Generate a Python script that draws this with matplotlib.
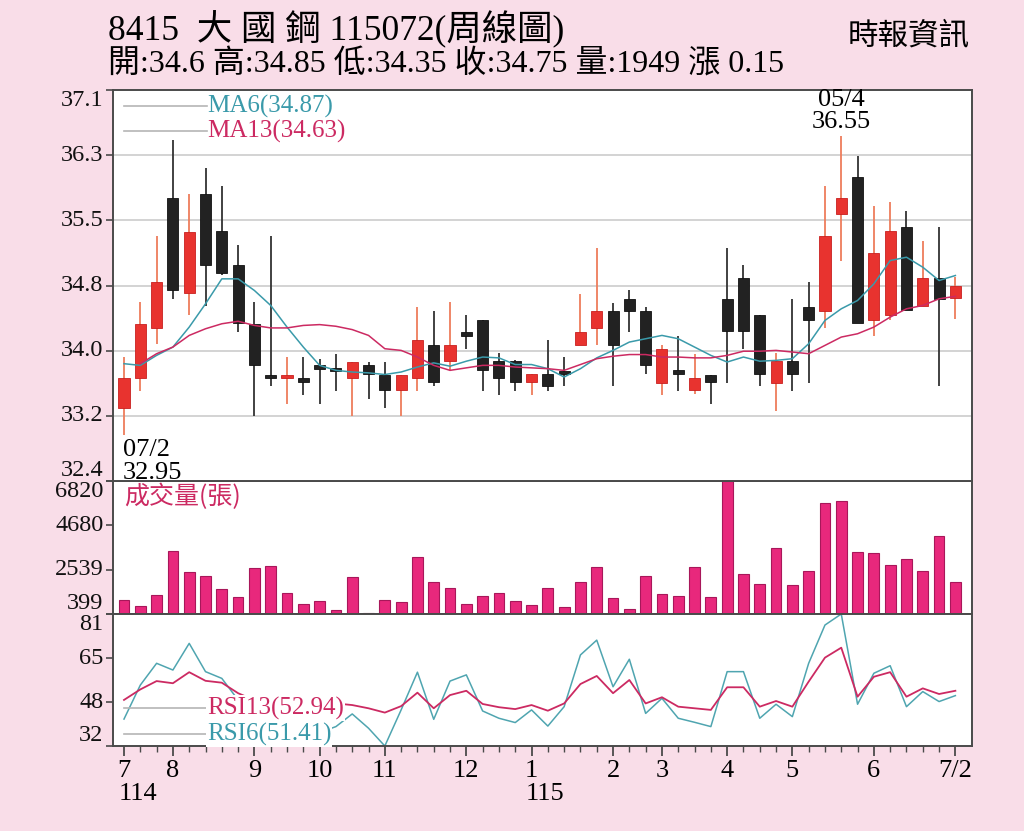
import numpy as np
import matplotlib
matplotlib.use("Agg")
import matplotlib.pyplot as plt

plt.rcParams["font.family"] = ["Liberation Serif", "Noto Sans CJK TC", "DejaVu Sans"]

# =============================================================================
# Data (weekly candles)
# =============================================================================

opens = [33.28, 33.64, 34.24, 35.80, 34.66, 35.85, 35.40, 35.00, 34.29, 33.68,
         33.64, 33.64, 33.79, 33.73, 33.64, 33.79, 33.68, 33.49, 33.64, 34.04,
         33.84, 34.19, 34.34, 33.84, 33.84, 33.59, 33.69, 33.72, 34.04, 34.24,
         34.44, 34.59, 34.44, 33.58, 33.73, 33.49, 33.68, 34.59, 34.84, 34.39,
         33.58, 33.84, 34.49, 34.44, 35.61, 36.06, 34.34, 34.39, 35.45, 34.50,
         34.84, 34.60]
highs = [33.89, 34.55, 35.35, 36.50, 35.85, 36.16, 35.95, 35.24, 34.55, 35.34,
         33.89, 33.89, 33.87, 33.93, 33.83, 33.83, 33.83, 33.68, 34.49, 34.44,
         34.55, 34.39, 34.34, 33.94, 33.86, 33.69, 34.09, 33.89, 34.65, 35.20,
         34.54, 34.70, 34.49, 34.04, 34.14, 33.93, 33.68, 35.20, 35.00, 34.39,
         33.94, 34.59, 34.79, 35.95, 36.55, 36.31, 35.70, 35.75, 35.65, 35.29,
         35.45, 34.85]
lows = [32.95, 33.48, 34.05, 34.59, 34.39, 34.50, 34.88, 34.19, 33.18, 33.54,
        33.33, 33.43, 33.33, 33.48, 33.18, 33.38, 33.28, 33.18, 33.48, 33.54,
        33.74, 33.99, 33.48, 33.43, 33.48, 33.43, 33.48, 33.54, 34.04, 34.04,
        33.54, 34.19, 33.69, 33.43, 33.48, 33.44, 33.33, 33.58, 33.99, 33.54,
        33.24, 33.48, 33.58, 34.24, 35.04, 34.30, 34.14, 34.34, 34.45, 34.50,
        33.54, 34.35]
closes = [33.64, 34.29, 34.79, 34.70, 35.39, 35.00, 34.90, 34.30, 33.79, 33.64,
          33.68, 33.59, 33.75, 33.72, 33.83, 33.69, 33.49, 33.68, 34.09, 33.59,
          34.04, 34.14, 33.74, 33.64, 33.59, 33.69, 33.54, 33.69, 34.19, 34.44,
          34.04, 34.44, 33.79, 33.99, 33.69, 33.64, 33.59, 34.20, 34.20, 33.69,
          33.84, 33.69, 34.34, 35.34, 35.80, 34.30, 35.14, 35.40, 34.45, 34.84,
          34.59, 34.75]
volumes = [1075, 800, 1331, 3455, 2441, 2219, 1606, 1205, 2620, 2731,
           1428, 896, 1012, 577, 2171, 433, 1060, 964, 3151, 1929,
           1654, 896, 1254, 1428, 1012, 848, 1654, 752, 1929, 2683,
           1186, 640, 2219, 1365, 1254, 2683, 1205, 6820, 2330, 1862,
           3600, 1799, 2460, 5773, 5855, 3407, 3358, 2750, 3040, 2460,
           4165, 1949]
ma6 = [33.81, 33.79, 33.91, 34.01, 34.25, 34.53, 34.83, 34.83, 34.69, 34.51,
       34.25, 34.01, 33.79, 33.73, 33.71, 33.70, 33.68, 33.71, 33.77, 33.82,
       33.78, 33.84, 33.89, 33.88, 33.80, 33.80, 33.75, 33.65, 33.75, 33.88,
       33.97, 34.07, 34.11, 34.15, 34.11, 34.01, 33.91, 33.83, 33.89, 33.84,
       33.85, 33.87, 34.05, 34.33, 34.47, 34.57, 34.77, 35.05, 35.09, 34.97,
       34.81, 34.87]
ma13 = [np.nan, 33.81, 33.93, 34.01, 34.15, 34.23, 34.29, 34.32, 34.27, 34.24,
        34.24, 34.27, 34.28, 34.26, 34.22, 34.15, 33.99, 33.97, 33.89, 33.79,
        33.73, 33.76, 33.79, 33.79, 33.77, 33.76, 33.75, 33.73, 33.80, 33.87,
        33.90, 33.92, 33.92, 33.89, 33.89, 33.88, 33.88, 33.91, 33.96, 33.96,
        33.97, 33.95, 33.93, 34.03, 34.13, 34.17, 34.25, 34.37, 34.47, 34.51,
        34.59, 34.62]
rsi6 = [42.0, 54.6, 62.7, 60.2, 70.1, 59.6, 57.1, 49.1, 44.0, 46.0,
        40.0, 36.0, 37.0, 39.2, 43.9, 38.6, 32.0, 45.4, 59.4, 41.9,
        56.1, 58.4, 45.0, 42.3, 40.7, 45.4, 39.4, 46.6, 65.8, 71.3,
        54.0, 64.2, 44.1, 49.7, 42.3, 40.8, 39.2, 59.6, 59.6, 42.3,
        47.5, 42.9, 62.7, 76.9, 81.0, 47.5, 59.0, 61.8, 46.6, 52.2,
        48.5, 50.7]
rsi13 = [49.1, 53.0, 56.1, 55.3, 59.4, 56.2, 55.5, 51.6, 49.0, 49.0,
         48.0, 47.0, 47.5, 47.8, 47.2, 46.0, 44.4, 46.8, 51.8, 46.0,
         50.9, 52.5, 47.6, 46.4, 45.7, 47.2, 45.1, 47.8, 55.0, 58.0,
         51.6, 56.5, 47.8, 50.1, 46.6, 46.0, 45.4, 53.8, 53.8, 46.6,
         48.7, 46.6, 55.9, 64.8, 68.5, 50.3, 57.7, 59.4, 50.3, 53.4,
         51.3, 52.5]

legend_ma6, legend_ma13 = 34.87, 34.63
legend_rsi6, legend_rsi13 = 51.41, 52.94

month_idx = [0, 3, 8, 12, 16, 21, 25, 30, 33, 37, 41, 46, 51]
month_labels = ["7", "8", "9", "10", "11", "12", "1", "2", "3", "4", "5", "6", "7/2"]
year_marks = {0: "114", 25: "115"}

price_ticks = np.linspace(32.4, 37.1, 7)
price_tick_labels = ["32.4", "33.2", "34.0", "34.8", "35.5", "36.3", "37.1"]
vol_ticks = [399, 2539, 4680, 6820]
vol_tick_labels = ["399", "2539", "4680", "6820"]
rsi_ticks = np.linspace(32, 81, 4)
rsi_tick_labels = ["32", "48", "65", "81"]

title_text = "8415  大 國 鋼 115072(周線圖)"
info_text = "開:34.6 高:34.85 低:34.35 收:34.75 量:1949 漲 0.15"
source_text = "時報資訊"
low_date, high_date = "07/2", "05/4"

# =============================================================================
# Styles
# =============================================================================

BG = "#f9dde8"
UP = "#e8332f"
DOWN = "#222222"
UP_WICK = "#ee7d5c"
DOWN_WICK = "#333333"
TEAL = "#3a9aaa"
CRIMSON = "#cc2a62"
VOL_FACE = "#e8287c"
VOL_EDGE = "#a8175a"
SPINE = "#4a4a4a"
GRID = "#cccccc"
LEG_LINE = "#b5b5b5"

x = np.arange(len(closes))
o = np.array(opens)
c = np.array(closes)
up = c >= o
body_lo = np.minimum(o, c)
body_h = np.maximum(np.abs(c - o), 0.035)

fig = plt.figure(figsize=(10.24, 8.31), dpi=100)
fig.patch.set_facecolor(BG)

L, W = 113 / 1024, 859 / 1024
ax_p = fig.add_axes([L, 350 / 831, W, 391 / 831])
ax_v = fig.add_axes([L, 217 / 831, W, 133 / 831])
ax_r = fig.add_axes([L, 85 / 831, W, 132 / 831])
ax_p.set_zorder(3)

xlim = (-0.675, 52.02)
for ax in (ax_p, ax_v, ax_r):
    ax.set_facecolor("white")
    ax.set_xlim(*xlim)
    for s in ax.spines.values():
        s.set_color(SPINE)
        s.set_linewidth(1.4)
    ax.tick_params(axis="y", length=5, width=1.2, color=SPINE, labelleft=False)
    ax.tick_params(axis="x", bottom=False, labelbottom=False)


def ylabels(ax, ticks, labels):
    tr = ax.get_yaxis_transform()
    for i, (t, lab) in enumerate(zip(ticks, labels)):
        va = "center"
        if i == 0:
            va = "bottom"
        elif i == len(ticks) - 1:
            va = "top"
        ax.text(-0.011, t, lab, transform=tr, ha="right", va=va, fontsize=17.5,
                color="#111111", clip_on=False)


# ---- price panel
ax_p.set_ylim(32.4, 37.1)
ax_p.set_yticks(price_ticks)
for t in price_ticks[1:-1]:
    ax_p.axhline(t, color=GRID, lw=1.2, zorder=0)
ax_p.vlines(x[up], np.array(lows)[up], np.array(highs)[up], color=UP_WICK, lw=1.3, zorder=2)
ax_p.vlines(x[~up], np.array(lows)[~up], np.array(highs)[~up], color=DOWN_WICK, lw=1.3, zorder=2)
ax_p.bar(x[up], body_h[up], bottom=body_lo[up], width=0.68, color=UP, edgecolor="#c8201f", lw=0.6, zorder=3)
ax_p.bar(x[~up], body_h[~up], bottom=body_lo[~up], width=0.68, color=DOWN, edgecolor="#111111", lw=0.6, zorder=3)
ax_p.plot(x, ma6, color=TEAL, lw=1.1, zorder=4)
ax_p.plot(x, ma13, color=CRIMSON, lw=1.1, zorder=4)
ylabels(ax_p, price_ticks, price_tick_labels)

ax_p.plot([0.0128, 0.1094], [0.959, 0.959], transform=ax_p.transAxes, color=LEG_LINE, lw=1.2)
ax_p.plot([0.0128, 0.1094], [0.895, 0.895], transform=ax_p.transAxes, color=LEG_LINE, lw=1.2)
ax_p.text(0.1094, 0.959, f"MA6({legend_ma6:.2f})", transform=ax_p.transAxes, color=TEAL,
          fontsize=18, va="center", ha="left")
ax_p.text(0.1094, 0.895, f"MA13({legend_ma13:.2f})", transform=ax_p.transAxes, color=CRIMSON,
          fontsize=18, va="center", ha="left")

i_lo = int(np.argmin(lows))
i_hi = int(np.argmax(highs))
ax_p.annotate(low_date, xy=(i_lo, lows[i_lo]), xytext=(-1, -3), textcoords="offset points",
              ha="left", va="top", fontsize=19, zorder=6, annotation_clip=False)
ax_p.annotate(f"{lows[i_lo]:.2f}", xy=(i_lo, lows[i_lo]), xytext=(-1, -19), textcoords="offset points",
              ha="left", va="top", fontsize=19, zorder=6, annotation_clip=False)
ax_p.annotate(f"{highs[i_hi]:.2f}", xy=(i_hi, highs[i_hi]), xytext=(0, 2), textcoords="offset points",
              ha="center", va="bottom", fontsize=19, zorder=6, annotation_clip=False)
ax_p.annotate(high_date, xy=(i_hi, highs[i_hi]), xytext=(0, 18), textcoords="offset points",
              ha="center", va="bottom", fontsize=19, zorder=6, annotation_clip=False)

# ---- volume panel
ax_v.set_ylim(vol_ticks[0], vol_ticks[-1])
ax_v.set_yticks(vol_ticks)
ax_v.bar(x, np.array(volumes) - vol_ticks[0], bottom=vol_ticks[0], width=0.66,
         color=VOL_FACE, edgecolor=VOL_EDGE, lw=0.8)
ylabels(ax_v, vol_ticks, vol_tick_labels)
ax_v.text(0.0128, 0.88, "成交量(張)", transform=ax_v.transAxes, color=CRIMSON,
          fontsize=18, va="center", ha="left", family=["Noto Sans CJK TC", "Liberation Serif"])

# ---- RSI panel
ax_r.set_ylim(32, 81)
ax_r.set_yticks(rsi_ticks)
ax_r.plot(x, rsi6, color="#4fa5b0", lw=1.1)
ax_r.plot(x, rsi13, color=CRIMSON, lw=1.3)
ylabels(ax_r, rsi_ticks, rsi_tick_labels)
ax_r.plot([0.0128, 0.1094], [0.288, 0.288], transform=ax_r.transAxes, color=LEG_LINE, lw=1.2)
ax_r.plot([0.0128, 0.1094], [0.091, 0.091], transform=ax_r.transAxes, color=LEG_LINE, lw=1.2)
box = dict(facecolor="white", edgecolor="none", pad=0.8)
ax_r.text(0.1094, 0.288, f"RSI13({legend_rsi13:.2f})", transform=ax_r.transAxes, color=CRIMSON,
          fontsize=18, va="center", ha="left", bbox=box, zorder=5)
ax_r.text(0.1094, 0.091, f"RSI6({legend_rsi6:.2f})", transform=ax_r.transAxes, color=TEAL,
          fontsize=18, va="center", ha="left", bbox=box, zorder=5)

ax_r.set_xticks(x, minor=True)
ax_r.set_xticks(month_idx)
ax_r.set_xticklabels(month_labels)
ax_r.tick_params(axis="x", which="major", bottom=True, labelbottom=True, length=7, width=1.3,
                 color=SPINE, labelsize=19, pad=3)
ax_r.tick_params(axis="x", which="minor", bottom=True, length=4, width=1.0, color=SPINE)
xtr = ax_r.get_xaxis_transform()
for i, lab in year_marks.items():
    ax_r.text(i - 0.35, -0.36, lab, transform=xtr, ha="left", va="center", fontsize=19)

# ---- header
fig.text(108 / 1024, 1 - 29 / 831, title_text, fontsize=25.5, ha="left", va="center")
fig.text(108 / 1024, 1 - 65 / 831, info_text, fontsize=23, ha="left", va="center")
fig.text(970 / 1024, 1 - 37 / 831, source_text, fontsize=22, ha="right", va="center",
         family=["Noto Sans CJK TC"])

fig.savefig("out.png", dpi=100, facecolor=BG)
